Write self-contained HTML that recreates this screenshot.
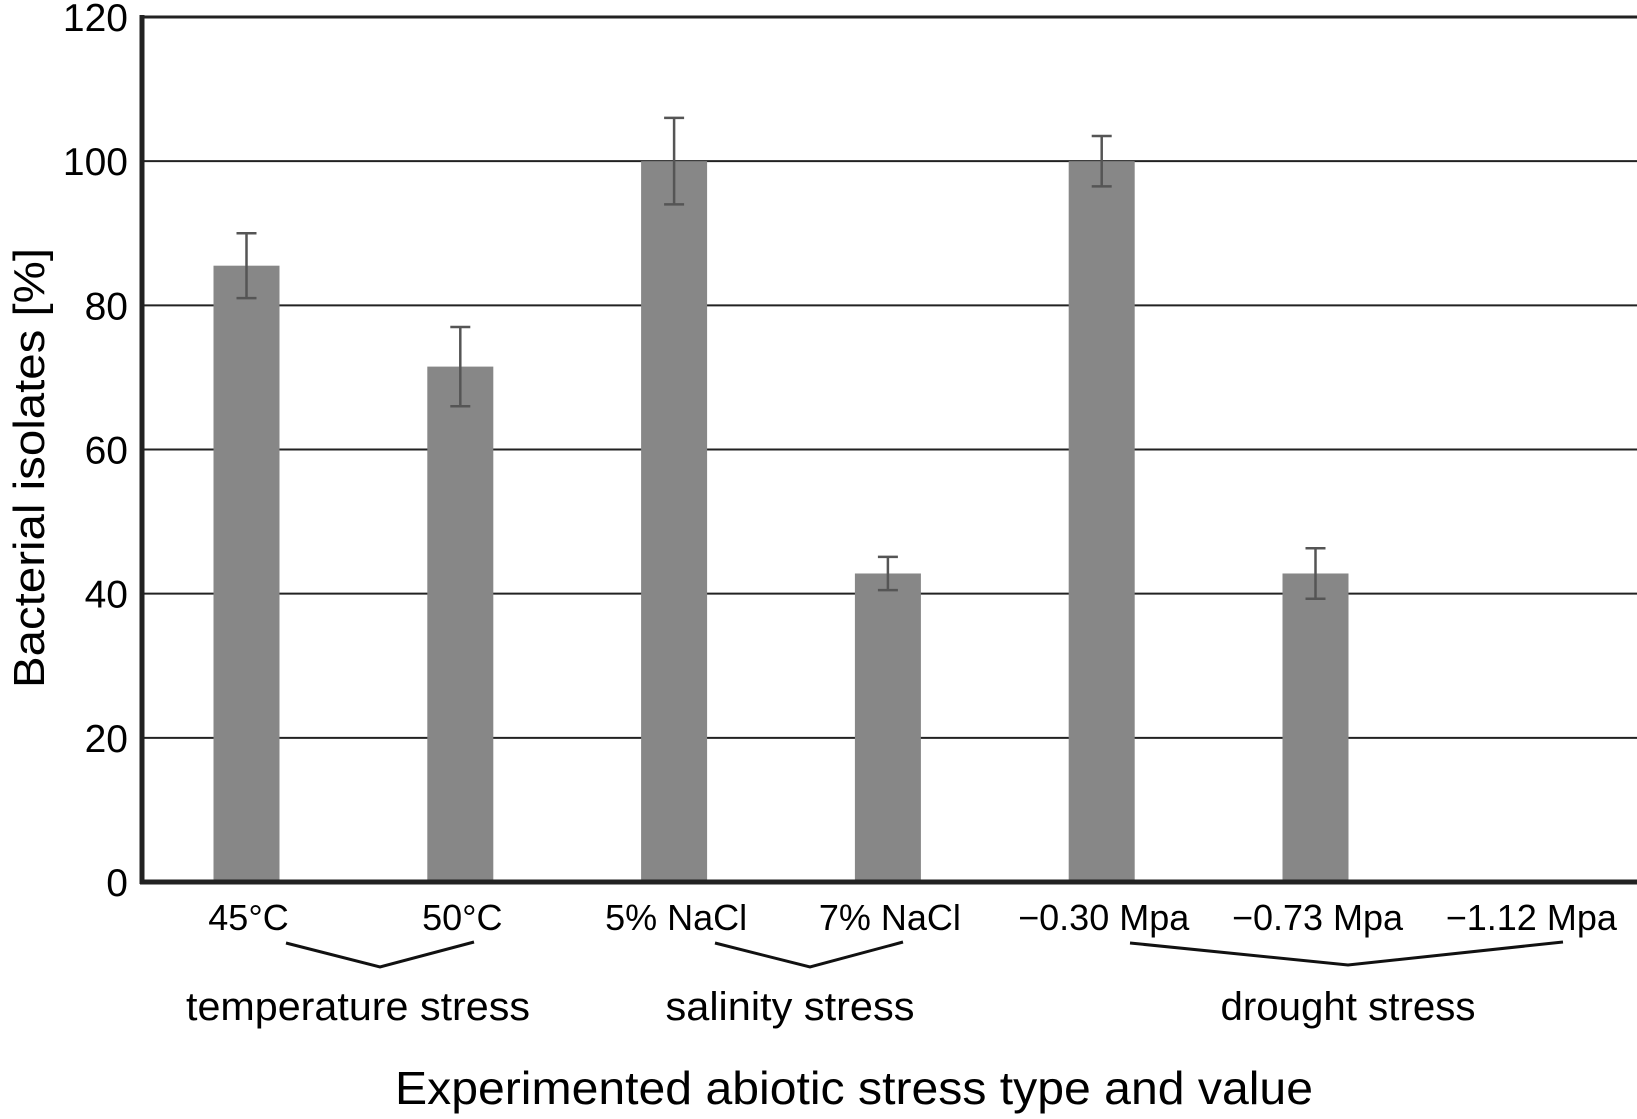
<!DOCTYPE html>
<html><head><meta charset="utf-8"><style>
html,body{margin:0;padding:0;background:#fff;}
svg{display:block;font-family:"Liberation Sans",Arial,sans-serif;}
</style></head><body>
<svg id="chart" width="1637" height="1119" viewBox="0 0 1637 1119">
<g id="grid"></g><g id="bars"></g><g id="errs"></g><g id="yticks"></g><g id="xlabels"></g>
<line x1="142" y1="15" x2="142" y2="884" stroke="#222" stroke-width="5"/>
<line x1="140" y1="882" x2="1637" y2="882" stroke="#222" stroke-width="5"/>
<text transform="translate(44,468) rotate(-90)" text-anchor="middle" font-size="44" textLength="440" lengthAdjust="spacingAndGlyphs">Bacterial isolates [%]</text>
<polyline points="286,943 380,967 474,942" fill="none" stroke="#111" stroke-width="3"/>
<polyline points="715,943 810,967 903,942" fill="none" stroke="#111" stroke-width="3"/>
<polyline points="1130,943 1348,965 1563,942" fill="none" stroke="#111" stroke-width="3"/>
<text x="358" y="1020" text-anchor="middle" font-size="40" textLength="344" lengthAdjust="spacingAndGlyphs">temperature stress</text>
<text x="790" y="1020" text-anchor="middle" font-size="40" textLength="249" lengthAdjust="spacingAndGlyphs">salinity stress</text>
<text x="1348" y="1020" text-anchor="middle" font-size="40" textLength="255" lengthAdjust="spacingAndGlyphs">drought stress</text>
<text x="854" y="1104" text-anchor="middle" font-size="46" textLength="918" lengthAdjust="spacingAndGlyphs">Experimented abiotic stress type and value</text>
</svg>
<script>
const categories = ["45\u00B0C","50\u00B0C","5% NaCl","7% NaCl","\u22120.30 Mpa","\u22120.73 Mpa","\u22121.12 Mpa"];
const values = [85.5, 71.5, 100, 42.8, 100, 42.8, 0];
const errors = [4.5, 5.5, 6, 2.3, 3.5, 3.5, 0];
const yTicks = [0, 20, 40, 60, 80, 100, 120];

const NS = "http://www.w3.org/2000/svg";
const y = v => 882 - v * (865 / 120);
const x0 = 246.5, step = 213.8, bw = 66;
const xc = i => x0 + i * step;
function mk(tag, attrs, parent) {
  const e = document.createElementNS(NS, tag);
  for (const k in attrs) e.setAttribute(k, attrs[k]);
  document.getElementById(parent).appendChild(e);
  return e;
}
yTicks.forEach((t) => {
  if (t > 0) {
    const g = mk("line", {x1: 142, x2: 1637, y1: y(t), y2: y(t), stroke: "#222", "stroke-width": t === 120 ? 3 : 2}, "grid");
    
    
  }
  const tx = mk("text", {x: 128, y: y(t) + 14, "text-anchor": "end", "font-size": 39}, "yticks");
  tx.textContent = t;
  
  
});
categories.forEach((c, i) => {
  const v = values[i];
  if (v > 0) {
    const b = mk("rect", {x: xc(i) - bw / 2, y: y(v), width: bw, height: 882 - y(v), fill: "#878787"}, "bars");
    
    
  }
  const e = errors[i];
  if (e > 0) {
    const g = mk("path", {d: `M${xc(i)-10},${y(v+e)}H${xc(i)+10}M${xc(i)},${y(v+e)}V${y(v-e)}M${xc(i)-10},${y(v-e)}H${xc(i)+10}`, stroke: "#555", "stroke-width": 2.5, fill: "none"}, "errs");
    
    
  }
  const l = mk("text", {x: xc(i) + 2, y: 930, "text-anchor": "middle", "font-size": 36}, "xlabels");
  l.textContent = c;
  
  
});
</script>
</body></html>
